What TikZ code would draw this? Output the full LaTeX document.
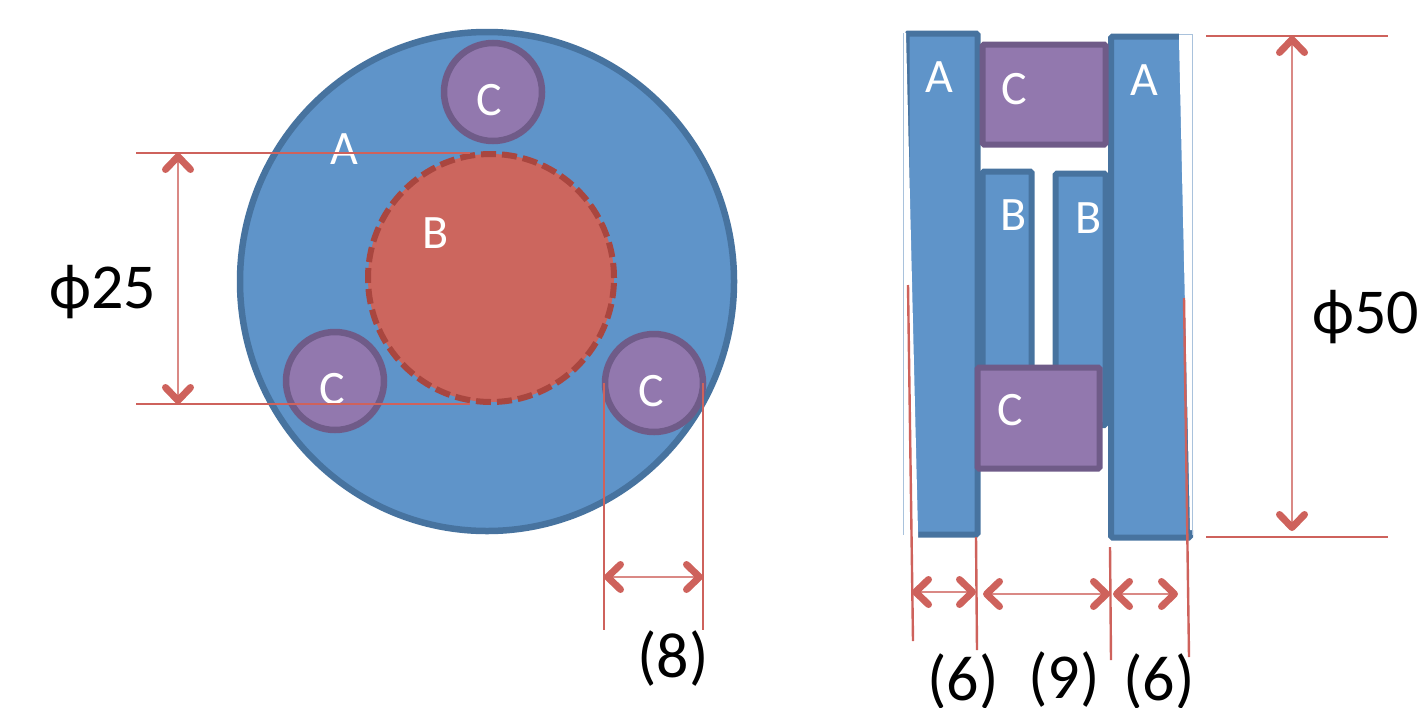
\documentclass[tikz,border=0pt]{standalone}
\usepackage{fontspec}
\setmainfont{Carlito}
\usetikzlibrary{arrows.meta,shapes.geometric}
\definecolor{blueF}{HTML}{5F94C9}
\definecolor{blueS}{HTML}{47739F}
\definecolor{purpF}{HTML}{9278AE}
\definecolor{purpS}{HTML}{6F5B88}
\definecolor{redF}{HTML}{CC665E}
\definecolor{redS}{HTML}{A9463F}
\definecolor{dimC}{HTML}{CE625C}
\definecolor{thinB}{HTML}{A9C2DC}
\tikzset{
  x=1pt,y=-1pt,
  bluepart/.style={draw=blueS,fill=blueF,line width=6pt,rounded corners=1.5pt},
  purppart/.style={draw=purpS,fill=purpF,line width=6pt,rounded corners=1.5pt},
  purpcirc/.style={circle,draw=purpS,fill=purpF,line width=6.5pt,minimum size=98pt,inner sep=0pt},
  wlab/.style={text=white,font=\fontsize{48}{48}\selectfont,inner sep=0pt},
  klab/.style={text=black,font=\fontsize{64}{64}\selectfont,inner sep=0pt},
  dimline/.style={draw=dimC,line width=2.4pt},
  dimarrow/.style={draw=dimC!75!white,line width=2.4pt,
    {Straight Barb[length=13pt,width=25pt,line width=7pt,round,color=dimC]}-{Straight Barb[length=13pt,width=25pt,line width=7pt,round,color=dimC]}},
}
\begin{document}
\begin{tikzpicture}
\useasboundingbox (0,0) rectangle (1420,707);
% left view
\node[ellipse,draw=blueS,fill=blueF,line width=6.5pt,minimum width=494pt,minimum height=499pt,inner sep=0pt] (mainA) at (487,281.5) {};
\node[ellipse,draw=redS,fill=redF,line width=6pt,dash pattern=on 15pt off 6pt,minimum width=246pt,minimum height=248pt,inner sep=0pt] (coreB) at (491,278) {};
\node[purpcirc] (c1) at (493,92) {};
\node[purpcirc] (c2) at (335,381) {};
\node[purpcirc] (c3) at (654,383) {};
\node[wlab] (la) at (344,149) {A};
\node[wlab] (lb) at (436,233) {B};
\node[wlab] (lc1) at (489,100) {C};
\node[wlab] (lc2) at (332,389) {C};
\node[wlab] (lc3) at (651,391) {C};
% left dims
\coordinate (d1a) at (136,153); \coordinate (d1b) at (470,153);
\coordinate (d2a) at (136,404); \coordinate (d2b) at (470,404);
\coordinate (d1m) at (178,153); \coordinate (d2m) at (178,404);
\draw[dimline] (d1a) -- (d1b);
\draw[dimline] (d2a) -- (d2b);
\draw[dimarrow] (d1m) -- (d2m);
\coordinate (e1a) at (604,383); \coordinate (e1b) at (604,630);
\coordinate (e2a) at (703,383); \coordinate (e2b) at (703,630);
\coordinate (e1m) at (604,577); \coordinate (e2m) at (703,577);
\draw[dimline] (e1a) -- (e1b);
\draw[dimline] (e2a) -- (e2b);
\draw[dimarrow] (e1m) -- (e2m);
\node[klab] (t25) at (103,292) {ϕ25};
\node[klab] (t8) at (673,659) {(8)};
% right view
\path[bluepart] (906.5,33.5) rectangle (977.5,534.5);
\path[bluepart] (1111,36.5) rectangle (1190,537.5);
\path[bluepart] (982.5,171.5) rectangle (1031.5,425);
\path[bluepart] (1055.5,173.5) rectangle (1105.5,425);
\path[fill=white] (902,30) -- (906,33) -- (918,532) -- (918,540) -- (902,540) -- cycle;
\path[fill=white] (1179,39.5) -- (1190,530) -- (1195,530) -- (1195,33) -- (1179,33) -- cycle;
\draw[thinB,line width=1pt] (903.5,33) -- (903.5,535);
\draw[thinB,line width=1pt] (1179,34.5) -- (1192,34.5) -- (1192,535);
\path[purppart] (982.5,44.5) rectangle (1105.5,144.5);
\path[purppart] (977.5,367.5) rectangle (1099.5,468.5);
\node[wlab] (ra1) at (939,77) {A};
\node[wlab] (rc1) at (1014,89) {C};
\node[wlab] (ra2) at (1144,80) {A};
\node[wlab] (rb1) at (1014,215) {B};
\node[wlab] (rb2) at (1089,218) {B};
\node[wlab] (rc2) at (1010,410) {C};
% right dims
\coordinate (f1a) at (908,285); \coordinate (f1b) at (913,641);
\coordinate (f2a) at (976,537); \coordinate (f2b) at (977,650);
\coordinate (f3a) at (1110,547); \coordinate (f3b) at (1111,660);
\coordinate (f4a) at (1184,298); \coordinate (f4b) at (1189,657);
\draw[dimline] (f1a) -- (f1b);
\draw[dimline] (f2a) -- (f2b);
\draw[dimline] (f3a) -- (f3b);
\draw[dimline] (f4a) -- (f4b);
\coordinate (g1) at (912,592); \coordinate (g2) at (976,592);
\coordinate (g3) at (983,594); \coordinate (g4) at (1110,594);
\coordinate (g5) at (1113,594); \coordinate (g6) at (1178,594);
\draw[dimarrow] (g1) -- (g2);
\draw[dimarrow] (g3) -- (g4);
\draw[dimarrow] (g5) -- (g6);
\coordinate (h1a) at (1206,36); \coordinate (h1b) at (1388,36);
\coordinate (h2a) at (1206,537); \coordinate (h2b) at (1388,537);
\coordinate (h1m) at (1292,36); \coordinate (h2m) at (1292,531);
\draw[dimline] (h1a) -- (h1b);
\draw[dimline] (h2a) -- (h2b);
\draw[dimarrow] (h1m) -- (h2m);
\node[klab] (t50) at (1366,317) {ϕ50};
\node[klab] (t6a) at (963,682) {(6)};
\node[klab] (t9) at (1064,680) {(9)};
\node[klab] (t6b) at (1159,682) {(6)};
\end{tikzpicture}
\end{document}
